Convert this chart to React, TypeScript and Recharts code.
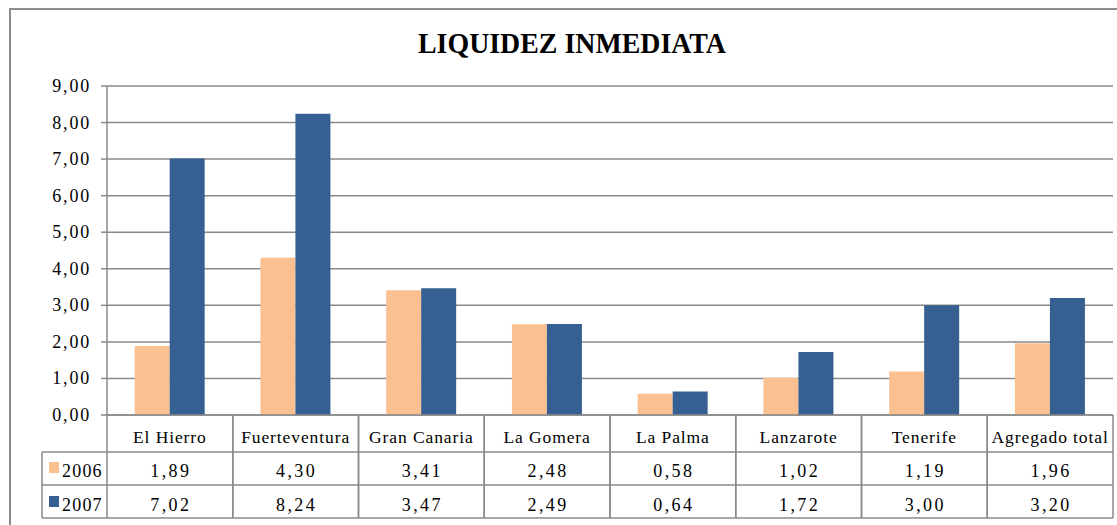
import { Bar, BarChart, CartesianGrid, XAxis, YAxis } from "recharts";

const islands = [
  "El Hierro",
  "Fuerteventura",
  "Gran Canaria",
  "La Gomera",
  "La Palma",
  "Lanzarote",
  "Tenerife",
  "Agregado total",
];
const values2006 = [1.89, 4.3, 3.41, 2.48, 0.58, 1.02, 1.19, 1.96];
const values2007 = [7.02, 8.24, 3.47, 2.49, 0.64, 1.72, 3.0, 3.2];
const yTicks = [0, 1, 2, 3, 4, 5, 6, 7, 8, 9];
const seriesNames = ["2006", "2007"];

const data = islands.map((name, i) => ({
  name,
  y2006: values2006[i],
  y2007: values2007[i],
}));

const COLOR_2006 = "#FAC090";
const COLOR_2007 = "#376092";
const LINE = "#8a8a8a";
const FONT = "'Liberation Serif', 'Times New Roman', serif";

const PLOT_LEFT = 107;
const PLOT_RIGHT = 1113;
const BAND = (PLOT_RIGHT - PLOT_LEFT) / islands.length;
const TABLE_TOP = 415;
const ROW1 = 452;
const ROW2 = 485;
const TABLE_BOTTOM = 518;
const LEGEND_LEFT = 42;

const fmt = (v: number) => v.toFixed(2).replace(".", ",");

const txt = (size: number, spacing: number) => ({
  fontFamily: FONT,
  fontSize: size,
  fill: "#000",
  letterSpacing: spacing,
});

function YTick(props: any) {
  const { y, payload } = props;
  return (
    <text x={PLOT_LEFT - 16} y={y + 6} textAnchor="end" style={txt(18, 1.8)}>
      {fmt(payload.value)}
    </text>
  );
}

function TableTick(props: any) {
  const { x, payload, index } = props;
  const i = typeof index === "number" ? index : islands.indexOf(payload.value);
  const left = x - BAND / 2;
  const right = x + BAND / 2;
  const ln = { stroke: LINE, strokeWidth: 1.5 };
  return (
    <g>
      <line x1={left} y1={TABLE_TOP} x2={left} y2={TABLE_BOTTOM} {...ln} />
      <line x1={right} y1={TABLE_TOP} x2={right} y2={TABLE_BOTTOM} {...ln} />
      <line x1={left} y1={ROW1} x2={right} y2={ROW1} {...ln} />
      <line x1={left} y1={ROW2} x2={right} y2={ROW2} {...ln} />
      <line x1={left} y1={TABLE_BOTTOM} x2={right} y2={TABLE_BOTTOM} {...ln} />
      <text x={x} y={443} textAnchor="middle" style={txt(17.5, 0.9)}>
        {payload.value}
      </text>
      <text x={x + 1} y={477} textAnchor="middle" style={txt(18, 2.4)}>
        {fmt(values2006[i])}
      </text>
      <text x={x + 1} y={511} textAnchor="middle" style={txt(18, 2.4)}>
        {fmt(values2007[i])}
      </text>
      {i === 0 && (
        <g>
          <line x1={LEGEND_LEFT} y1={ROW1} x2={left} y2={ROW1} {...ln} />
          <line x1={LEGEND_LEFT} y1={ROW2} x2={left} y2={ROW2} {...ln} />
          <line x1={LEGEND_LEFT} y1={TABLE_BOTTOM} x2={left} y2={TABLE_BOTTOM} {...ln} />
          <line x1={LEGEND_LEFT} y1={ROW1} x2={LEGEND_LEFT} y2={TABLE_BOTTOM} {...ln} />
          <rect x={49} y={462} width={10} height={11} fill={COLOR_2006} />
          <rect x={49} y={496} width={10} height={11} fill={COLOR_2007} />
          <text x={62} y={477} style={txt(18, 1.2)}>
            {seriesNames[0]}
          </text>
          <text x={62} y={511} style={txt(18, 1.2)}>
            {seriesNames[1]}
          </text>
        </g>
      )}
    </g>
  );
}

export default function App() {
  return (
    <div
      style={{
        position: "absolute",
        left: 0,
        top: 0,
        width: 1117,
        height: 525,
        overflow: "hidden",
        background: "#fff",
      }}
    >
      <svg width={1117} height={525} style={{ position: "absolute", left: 0, top: 0 }}>
        <rect x={10} y={9} width={1200} height={600} fill="none" stroke="#8c8c8c" strokeWidth={2} />
        <text
          x={572}
          y={53}
          textAnchor="middle"
          style={{ fontFamily: FONT, fontWeight: "bold", fontSize: 29 }}
          textLength={308}
          lengthAdjust="spacingAndGlyphs"
        >
          LIQUIDEZ INMEDIATA
        </text>
      </svg>
      <div style={{ position: "absolute", left: 0, top: 0 }}>
        <BarChart
          width={1125}
          height={525}
          data={data}
          margin={{ top: 86, right: 12, left: 47, bottom: 7 }}
          barCategoryGap="22%"
          barGap={0}
          style={{ fontFamily: FONT }}
        >
          <CartesianGrid vertical={false} stroke={LINE} strokeWidth={1.5} />
          <XAxis
            dataKey="name"
            height={103}
            interval={0}
            tickLine={false}
            axisLine={{ stroke: LINE, strokeWidth: 1.5 }}
            tick={<TableTick />}
          />
          <YAxis
            width={60}
            domain={[0, 9]}
            ticks={yTicks}
            tickSize={6}
            tickLine={{ stroke: LINE, strokeWidth: 1.5 }}
            axisLine={{ stroke: LINE, strokeWidth: 1.5 }}
            tick={<YTick />}
          />
          <Bar dataKey="y2006" name="2006" fill={COLOR_2006} isAnimationActive={false} />
          <Bar dataKey="y2007" name="2007" fill={COLOR_2007} isAnimationActive={false} />
        </BarChart>
      </div>
    </div>
  );
}
